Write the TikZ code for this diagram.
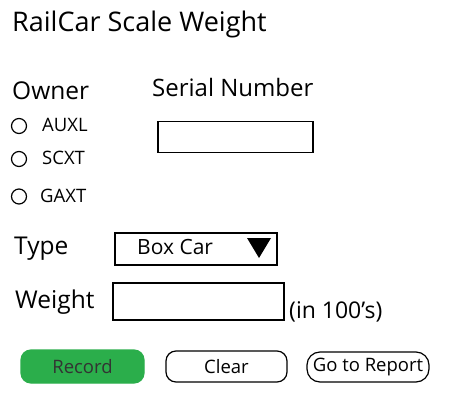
\documentclass[tikz,border=0pt]{standalone}
\usepackage{fontspec}
\setmainfont{Open Sans}
\definecolor{recordgreen}{HTML}{2BAE4B}
\begin{document}
\begin{tikzpicture}[x=1pt,y=-1pt,
        big/.style={anchor=base west,inner sep=0pt,font=\fontsize{24.5}{28}\selectfont},
        small/.style={anchor=base west,inner sep=0pt,font=\fontsize{18.5}{22}\selectfont},
        field/.style={draw,line width=1.5pt,anchor=north west,inner sep=0pt},
        radio/.style={draw,circle,line width=1.2pt,minimum size=15pt,inner sep=0pt},
        button/.style={draw,line width=1.2pt,rounded corners=10pt,inner sep=0pt,font=\fontsize{18.5}{22}\selectfont}]
        %page size of the form
        \useasboundingbox (0,0) rectangle (457,403);
        
        \node[big,font=\fontsize{27}{32}\selectfont] (title) at (12,32) {RailCar Scale Weight};
        
        %owner choices
        \node[big] (owner) at (12,100) {Owner};
        \node[radio] (auxlr) at (19,126) {};
        \node[radio] (scxtr) at (19,159) {};
        \node[radio] (gaxtr) at (19,196.5) {};
        \node[small] (auxl) at (42,132) {AUXL};
        \node[small] (scxt) at (42,165) {SCXT};
        \node[small] (gaxt) at (40,203) {GAXT};
        
        %serial number
        \node[big,font=\fontsize{24}{28}\selectfont] (serial) at (152,97) {Serial Number};
        \node[field,minimum width=155pt,minimum height=31pt] (serialbox) at (157,121) {};
        
        %type dropdown
        \node[big] (type) at (14,254) {Type};
        \node[field,minimum width=162pt,minimum height=32pt] (typebox) at (114,232) {};
        \node[big,font=\fontsize{21}{26}\selectfont] (boxcar) at (137,254) {Box Car};
        \fill (247,238) -- (271,238) -- (259,258) -- cycle;
        
        %weight
        \node[big] (weight) at (15,308) {Weight};
        \node[field,minimum width=171pt,minimum height=37pt] (weightbox) at (112,282) {};
        \node[big,font=\fontsize{23}{26}\selectfont] (units) at (289,318) {(in 100's)};
        
        %buttons
        \node[button,draw=recordgreen,fill=recordgreen,text=black!80,minimum width=123pt,minimum height=33pt] (record) at (82.5,366.5) {Record\hspace{8pt}};
        \node[button,minimum width=121pt,minimum height=31pt] (clear) at (226.5,366.5) {Clear\hspace{6pt}};
        \node[button,rounded corners=13pt,minimum width=122pt,minimum height=30pt] (report) at (368,367) {Go to Report};
        
    \end{tikzpicture}
\end{document}
